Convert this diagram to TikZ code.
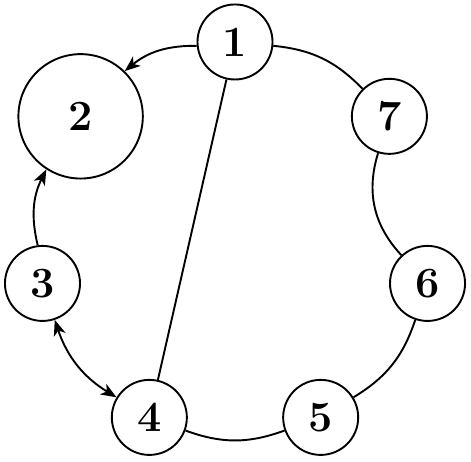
\documentclass[tikz,border=0pt]{standalone}
\usepackage{amsmath}
\usepackage{tikz}
\usetikzlibrary{arrows.meta}
\tikzset{
	vtx/.style={circle,draw,line width=1.1pt,inner sep=0pt,minimum size=1.52cm,font=\Huge\bfseries},
	bigvtx/.style={vtx,minimum size=2.52cm}
}
\begin{document}
\begin{tikzpicture}[>={Stealth[length=9pt,width=7pt,inset=2.5pt]},line width=1.1pt]
							\useasboundingbox (-4.76,-4.49) rectangle (4.78,4.85);
							\node [vtx] (1) at (90:4) {1};
							\node [bigvtx] (2) at (141.43:4) {2};
							\node [vtx] (3) at (192.86:4) {3};
							\node [vtx] (4) at (244.29:4) {4};
							\node [vtx] (5) at (295.71:4) {5};
							\node [vtx] (6) at (347.14:4) {6};
							\node [vtx] (7) at (38.57:4) {7};

							\draw [->] (1) to [bend right=20] (2);
							\draw (1) to [bend left=20] (7);
							\draw (7) to [bend right=30] (6);
							\draw (6) to [bend left=20] (5);
							\draw (5) to [bend left=20] (4);
							\draw [<->] (3) to [bend right=20] (4);
							\draw [->] (3) to [bend left=20] (2);
							\draw (1) -- (4);
						\end{tikzpicture}
\end{document}
